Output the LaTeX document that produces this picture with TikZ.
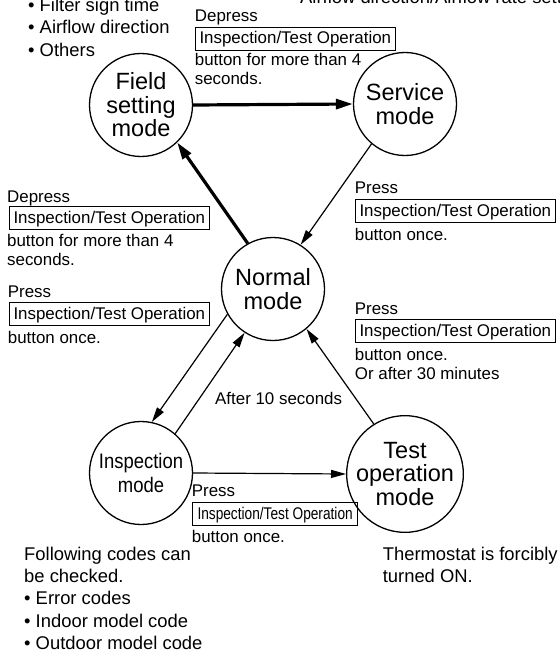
\documentclass[tikz,border=0pt]{standalone}
\usepackage{fontspec}
\setmainfont{Liberation Sans}
\usetikzlibrary{arrows.meta}
\newcommand\labfont{\fontsize{16.9bp}{19bp}\selectfont}
\newcommand\notefont{\fontsize{18.4bp}{22bp}\selectfont}
\newcommand\modefont{\fontsize{23.5bp}{23.5bp}\selectfont}
\newcommand\insfont{\fontsize{21bp}{24bp}\selectfont}
\begin{document}
\begin{tikzpicture}[x=1bp,y={(0bp,-1bp)},
  modenode/.style={circle, draw, line width=1.3bp, minimum size=103bp, inner sep=0pt, font=\modefont, align=center},
  lab/.style={font=\labfont, inner sep=0pt, anchor=base west},
  note/.style={font=\notefont, inner sep=0pt, anchor=base west},
  btn/.style={draw, line width=1bp, font=\labfont, inner xsep=4bp, inner ysep=3.5bp, text height=13bp, text depth=3bp, anchor=base west},
  thinarr/.style={line width=1.2bp, -{Triangle[length=15bp,width=8bp]}},
  thickarr/.style={line width=3.2bp, -{Triangle[length=17bp,width=10bp]}}]
\path[use as bounding box] (0,0) rectangle (560,651);
\clip (0,0) rectangle (560,651);
\fill[white] (0,0) rectangle (560,651);

% mode circles
\node[modenode] (F) at (141,105) {Field\\setting\\mode};
\node[modenode] (S) at (405,104) {Service\\mode};
\node[modenode] (N) at (273,289) {Normal\\mode};
\node[modenode, font=\insfont] (I) at (141,473) {\scalebox{0.88}[1]{Inspection}\\\scalebox{0.88}[1]{mode}};
\node[modenode] (T) at (405,474) {Test\\operation\\mode};

% connectors
\draw[thickarr] (F.east) -- (S.west);
\draw[thickarr] (N.119) -- (F.-46);
\draw[thinarr] (S.230) -- (N.58);
\draw[thinarr] (N.209) -- (I.78);
\draw[thinarr] (I.49) -- (N.237);
\draw[thinarr] (T.122) -- (N.-50);
\draw[thinarr] (I.east) -- (T.west);

% notes
\node[note] (n1) at (28,12) {• Filter sign time};
\node[note] (n2) at (28,34) {• Airflow direction};
\node[note] (n3) at (28,57) {• Others};
\node[note] (n4) at (300,4) {Airflow direction/Airflow rate setting};
\node[note] (n5) at (24,560) {Following codes can};
\node[note] (n6) at (24,582) {be checked.};
\node[note] (n7) at (24,604) {• Error codes};
\node[note] (n8) at (24,627) {• Indoor model code};
\node[note] (n9) at (24,649) {• Outdoor model code};
\node[note] (n10) at (382.6,560) {Thermostat is forcibly};
\node[note] (n11) at (382.6,582) {turned ON.};

% label: field -> service
\node[lab] (a1) at (194.7,22) {Depress};
\node[btn] (a2) at (195,44) {Inspection/Test Operation};
\node[lab] (a3) at (194.7,66) {button for more than 4};
\node[lab] (a4) at (194.7,85) {seconds.};

% label: normal -> field
\node[lab] (b1) at (7,202) {Depress};
\node[btn] (b2) at (9,223) {Inspection/Test Operation};
\node[lab] (b3) at (7,246) {button for more than 4};
\node[lab] (b4) at (7,265) {seconds.};

% label: normal -> inspection
\node[lab] (c1) at (7.7,297) {Press};
\node[btn] (c2) at (9,319) {Inspection/Test Operation};
\node[lab] (c3) at (7.7,343) {button once.};

% label: service -> normal
\node[lab] (d1) at (354.7,193) {Press};
\node[btn] (d2) at (355,216) {Inspection/Test Operation};
\node[lab] (d3) at (354.7,240) {button once.};

% label: test -> normal
\node[lab] (e1) at (354.7,314) {Press};
\node[btn] (e2) at (355,336) {Inspection/Test Operation};
\node[lab] (e3) at (354.7,360) {button once.};
\node[lab] (e4) at (354.7,379) {Or after 30 minutes};

% label: inspection -> normal
\node[lab] (f1) at (215,404) {After 10 seconds};

% label: inspection -> test
\node[lab] (g1) at (191.7,496) {Press};
\node[btn, inner xsep=5bp] (g2) at (192,519) {\scalebox{0.81}[1]{Inspection/Test Operation}};
\node[lab] (g3) at (191.7,542) {button once.};
\end{tikzpicture}
\end{document}
